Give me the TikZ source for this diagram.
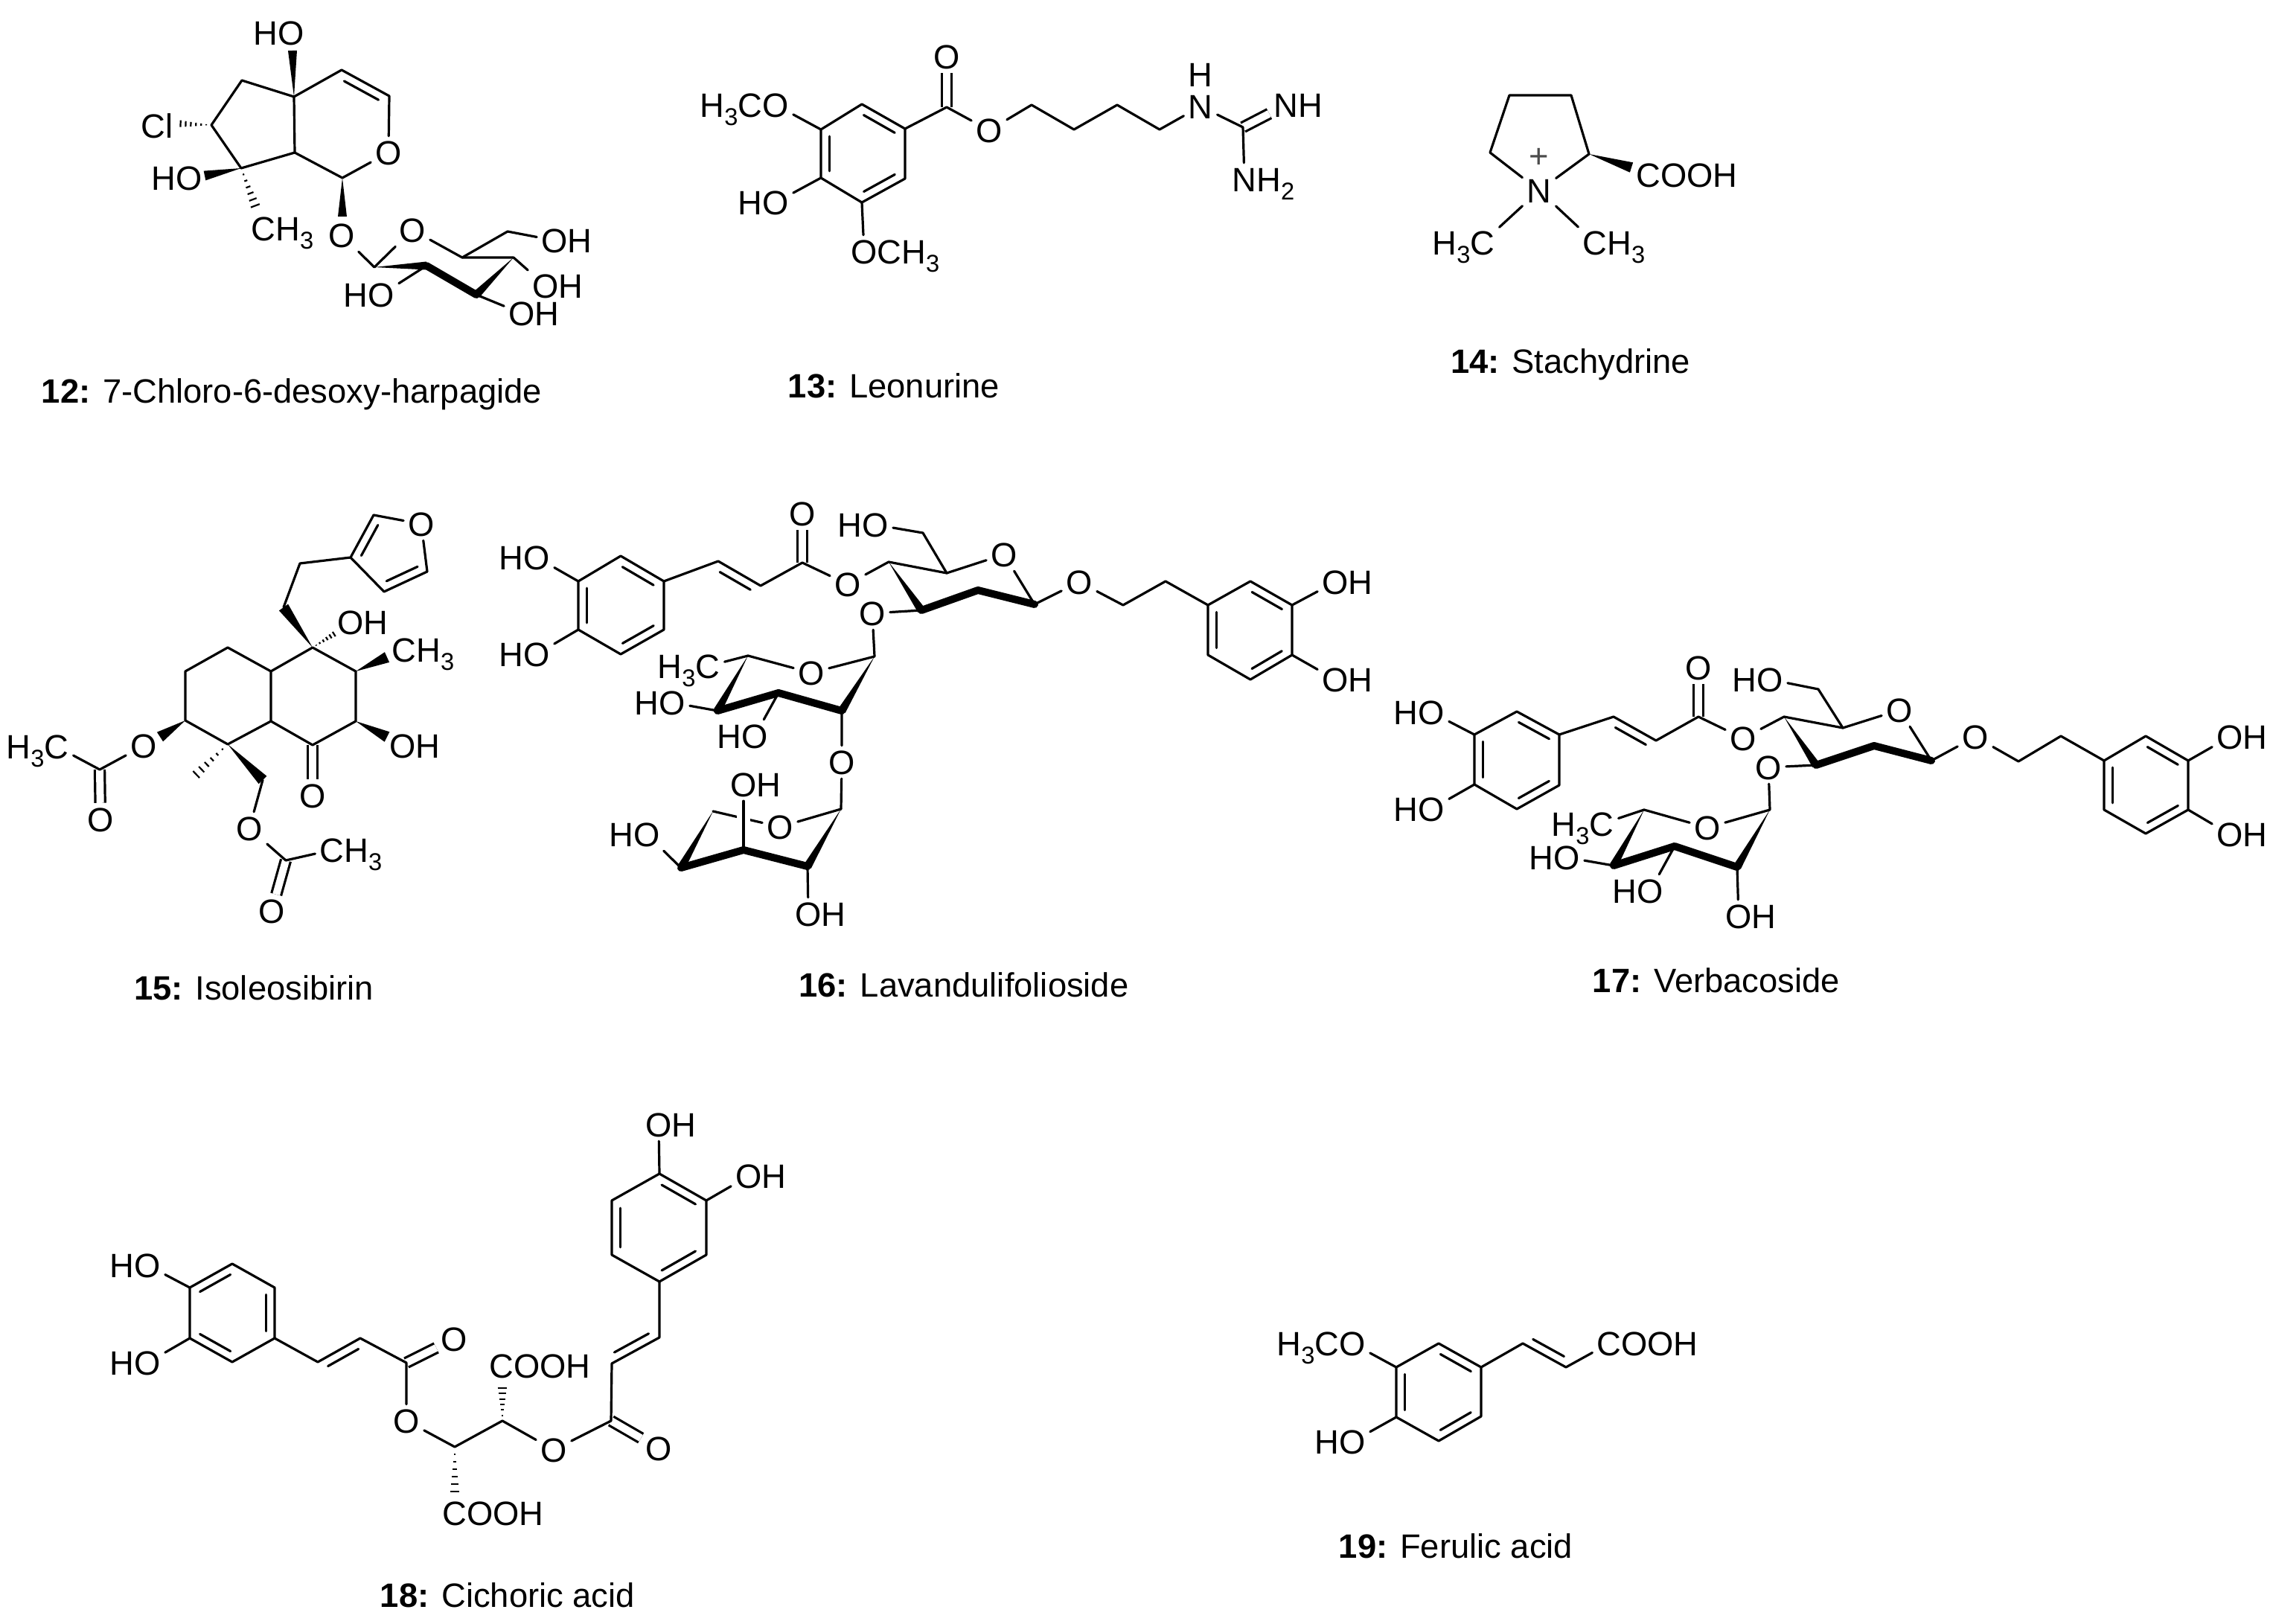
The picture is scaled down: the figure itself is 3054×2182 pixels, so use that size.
\documentclass[tikz,border=0pt]{standalone}
\usepackage{fontspec}
\setmainfont{Liberation Sans}
\usetikzlibrary{calc}
\tikzset{
    bond/.style={line width=0.032cm,line join=round,line cap=round},
    dbond/.style={line width=0.032cm,double,double distance=0.1cm},
    boldbond/.style={line width=0.1cm,line join=round,line cap=round},
    atom/.style={inner sep=0.055cm,font=\fontsize{12.9}{14}\selectfont,text height=0.32cm,text depth=0pt},
    capname/.style={inner sep=0pt,font=\fontsize{12.9}{14}\selectfont,text height=0.32cm,text depth=0.09cm}
}
\newcommand{\lowtext}[1]{\raisebox{-.25em}{\scalebox{.72}{#1}}}
\newcommand{\wedgebond}[3]{\fill (#1) -- ($(#2)!#3!90:(#1)$) -- ($(#2)!#3!-90:(#1)$) -- cycle;}
\newcommand{\hatchbond}[3]{\foreach \t in {.15,.3,.45,.6,.75,.9}{\draw[line width=0.022cm] ($(#1)!\t!(#2)!\t*#3!90:(#2)$) -- ($(#1)!\t!(#2)!\t*#3!-90:(#2)$);}}
\newcommand{\innerbond}[2]{\draw[bond] ($(#1)!.14!(#2)!0.115cm!90:(#2)$) -- ($(#2)!.14!(#1)!0.115cm!-90:(#1)$);}
\begin{document}
\begin{tikzpicture}[x=0.01cm,y=-0.01cm]
\fill[white] (0,0) rectangle (3054,2182);
\useasboundingbox (0,0) rectangle (3054,2182);
\coordinate (ha1) at (460,239);
\coordinate (ha3) at (523,129);
\coordinate (ha4) at (459,94);
\coordinate (ha4a) at (395,130);
\coordinate (ha5) at (325,108);
\coordinate (ha6) at (284,168);
\coordinate (ha7) at (324,226);
\coordinate (ha7a) at (396,205);
\coordinate (hawa) at (393,68);
\coordinate (hawb) at (275,236);
\coordinate (hawc) at (460,291);
\coordinate (haha) at (345,282);
\coordinate (hahb) at (238,166);
\coordinate (hasa) at (503,359);
\coordinate (hasb) at (573,357);
\coordinate (hasc) at (640,396);
\coordinate (hasd) at (690,346);
\coordinate (hase) at (621,346);
\coordinate (hasf) at (682,311);
\node[atom] (haOa) at (391,44) {\llap{H}O};
\node[atom] (haOb) at (522,205) {O};
\node[atom] (haOc) at (254,239) {\llap{H}O};
\node[atom] (haOd) at (459,316) {O};
\node[atom] (haOe) at (554,309) {O};
\node[atom] (haOf) at (745,323) {O\rlap{H}};
\node[atom] (haOg) at (733,384) {O\rlap{H}};
\node[atom] (haOh) at (701,421) {O\rlap{H}};
\node[atom] (haOi) at (512,396) {\llap{H}O};
\node[atom] (haCl) at (211,169) {Cl};
\node[atom] (haMe) at (354,307) {C\rlap{H\lowtext{3}}};
\node[capname] (haName) at (392,530) {\textbf{12:} 7-Chloro-6-desoxy-harpagide};
\draw[bond] (ha4a) -- (ha5) -- (ha6) -- (ha7) -- (ha7a) -- (ha4a) -- (ha4) -- (ha3) -- (haOb);
\draw[bond] (ha7a) -- (ha1) -- (haOb);
\innerbond{ha3}{ha4}
\wedgebond{ha4a}{hawa}{0.06cm}
\wedgebond{ha7}{hawb}{0.065cm}
\wedgebond{ha1}{hawc}{0.06cm}
\hatchbond{ha7}{haha}{0.07cm}
\hatchbond{ha6}{hahb}{0.05cm}
\draw[bond] (haOd) -- (hasa) -- (haOe);
\draw[bond] (haOe) -- (hase) -- (hasd);
\draw[bond] (hase) -- (hasf) -- (haOf);
\draw[bond] (hasd) -- (haOg);
\draw[bond] (hasb) -- (haOi);
\draw[bond] (hasc) -- (haOh);
\wedgebond{hasa}{hasb}{0.055cm}
\draw[boldbond] (hasb) -- (hasc);
\wedgebond{hasd}{hasc}{0.055cm}
\coordinate (let) at (1158,140);
\coordinate (leru) at (1216,173);
\coordinate (lerd) at (1216,240);
\coordinate (leb) at (1158,272);
\coordinate (leld) at (1103,239);
\coordinate (lelu) at (1103,174);
\coordinate (leco) at (1272,144);
\coordinate (lea) at (1386,141);
\coordinate (leb2) at (1443,174);
\coordinate (lec) at (1501,141);
\coordinate (led) at (1558,174);
\coordinate (legu) at (1670,171);
\node[atom] (leOa) at (1272,76) {O};
\node[atom] (leOb) at (1329,175) {O};
\node[atom] (leOc) at (1042,141) {\llap{H\lowtext{3}C}O};
\node[atom] (leOd) at (1042,272) {\llap{H}O};
\node[atom] (leOe) at (1161,338) {O\rlap{CH\lowtext{3}}};
\node[atom] (leNa) at (1613,143) {N};
\node[atom] (leH) at (1613,100) {H};
\node[atom] (leNb) at (1728,141) {N\rlap{H}};
\node[atom] (leNc) at (1672,241) {N\rlap{H\lowtext{2}}};
\node[capname] (leName) at (1201,523) {\textbf{13:} Leonurine};
\draw[dbond] (leco) -- (leOa);
\draw[dbond] (legu) -- (leNb);
\draw[bond] (let) -- (leru) -- (lerd) -- (leb) -- (leld) -- (lelu) -- (let);
\innerbond{leru}{let}
\innerbond{leb}{lerd}
\innerbond{lelu}{leld}
\draw[bond] (lelu) -- (leOc);
\draw[bond] (leld) -- (leOd);
\draw[bond] (leb) -- (leOe);
\draw[bond] (leru) -- (leco) -- (leOb) -- (lea) -- (leb2) -- (lec) -- (led) -- (leNa) -- (legu) -- (leNc);
\coordinate (sta) at (2028,128);
\coordinate (stb) at (2111,128);
\coordinate (stc) at (2135,207);
\coordinate (std) at (2002,205);
\coordinate (stw) at (2192,225);
\node[atom] (stN) at (2068,256) {N};
\node[atom,text=black!70,inner sep=0pt] (stP) at (2068,209) {+};
\node[atom] (stCa) at (2215,235) {C\rlap{OOH}};
\node[atom] (stCb) at (1992,326) {\llap{H\lowtext{3}}C};
\node[atom] (stCc) at (2143,326) {C\rlap{H\lowtext{3}}};
\node[capname] (stName) at (2110,490) {\textbf{14:} Stachydrine};
\draw[bond] (stN) -- (std) -- (sta) -- (stb) -- (stc) -- (stN);
\draw[bond] (stN) -- (stCb);
\draw[bond] (stN) -- (stCc);
\wedgebond{stc}{stw}{0.07cm}
\coordinate (isa) at (471,749);
\coordinate (isb) at (502,692);
\coordinate (isc) at (574,768);
\coordinate (isd) at (516,795);
\coordinate (ise) at (403,757);
\coordinate (isf) at (381,816);
\coordinate (isg) at (420,870);
\coordinate (ish) at (364,902);
\coordinate (isi) at (478,902);
\coordinate (isj) at (478,969);
\coordinate (isk) at (420,1001);
\coordinate (isl) at (364,969);
\coordinate (ism) at (306,1000);
\coordinate (isn) at (249,968);
\coordinate (iso) at (249,902);
\coordinate (isp) at (306,870);
\coordinate (isq) at (134,1034);
\coordinate (isr) at (353,1048);
\coordinate (iss) at (384,1156);
\coordinate (iswa) at (520,883);
\coordinate (iswb) at (520,990);
\coordinate (iswc) at (215,990);
\coordinate (isha) at (452,850);
\coordinate (ishb) at (259,1045);
\node[atom] (isOa) at (566,704) {O};
\node[atom] (isOb) at (471,836) {O\rlap{H}};
\node[atom] (isCa) at (543,873) {C\rlap{H\lowtext{3}}};
\node[atom] (isOc) at (541,1002) {O\rlap{H}};
\node[atom] (isOd) at (420,1069) {O};
\node[atom] (isOe) at (193,1002) {O};
\node[atom] (isCb) at (76,1003) {\llap{H\lowtext{3}}C};
\node[atom] (isOf) at (135,1101) {O};
\node[atom] (isOg) at (335,1113) {O};
\node[atom] (isCc) at (446,1142) {C\rlap{H\lowtext{3}}};
\node[atom] (isOh) at (365,1224) {O};
\node[capname] (isName) at (341,1332) {\textbf{15:} Isoleosibirin};
\draw[dbond] (isk) -- (isOd);
\draw[dbond] (isq) -- (isOf);
\draw[dbond] (iss) -- (isOh);
\draw[bond] (isa) -- (isb) -- (isOa) -- (isc) -- (isd) -- (isa) -- (ise) -- (isf);
\innerbond{isb}{isa}
\innerbond{isd}{isc}
\draw[bond] (isg) -- (ish) -- (isl) -- (isk) -- (isj) -- (isi) -- (isg);
\draw[bond] (ish) -- (isp) -- (iso) -- (isn) -- (ism) -- (isl);
\wedgebond{isg}{isf}{0.075cm}
\hatchbond{isg}{isha}{0.04cm}
\wedgebond{isi}{iswa}{0.075cm}
\wedgebond{isj}{iswb}{0.075cm}
\wedgebond{isn}{iswc}{0.075cm}
\hatchbond{ism}{ishb}{0.07cm}
\wedgebond{ism}{isr}{0.075cm}
\draw[bond] (isr) -- (isOg) -- (iss) -- (isCc);
\draw[bond] (isOe) -- (isq) -- (isCb);
\coordinate (lat) at (834,747);
\coordinate (laru) at (892,781);
\coordinate (lard) at (892,846);
\coordinate (lab) at (834,879);
\coordinate (lald) at (777,846);
\coordinate (lalu) at (777,781);
\coordinate (lava) at (965,754);
\coordinate (lavb) at (1022,787);
\coordinate (laco) at (1078,756);
\coordinate (lasa) at (1194,755);
\coordinate (lasb) at (1240,716);
\coordinate (lasc) at (1272,770);
\coordinate (lasd) at (1238,820);
\coordinate (lase) at (1314,793);
\coordinate (lasf) at (1390,812);
\coordinate (laga) at (1509,813);
\coordinate (lagb) at (1566,781);
\coordinate (lart) at (1680,781);
\coordinate (larru) at (1736,813);
\coordinate (larrd) at (1736,880);
\coordinate (larb) at (1680,913);
\coordinate (larld) at (1623,880);
\coordinate (larlu) at (1623,813);
\coordinate (lara) at (1175,882);
\coordinate (larc) at (1005,881);
\coordinate (lard2) at (964,955);
\coordinate (lare) at (1046,931);
\coordinate (larf) at (1131,955);
\coordinate (lapa) at (1130,1087);
\coordinate (lapb) at (958,1090);
\coordinate (lapc) at (915,1166);
\coordinate (lapd) at (999,1142);
\coordinate (lape) at (1085,1164);
\node[atom] (laOa) at (721,749) {\llap{H}O};
\node[atom] (laOb) at (721,879) {\llap{H}O};
\node[atom] (laOc) at (1078,690) {O};
\node[atom] (laOd) at (1139,785) {O};
\node[atom] (laOe) at (1176,705) {\llap{H}O};
\node[atom] (laOf) at (1172,824) {O};
\node[atom] (laOg) at (1349,745) {O};
\node[atom] (laOh) at (1450,782) {O};
\node[atom] (laOi) at (1794,782) {O\rlap{H}};
\node[atom] (laOj) at (1794,913) {O\rlap{H}};
\node[atom] (laOk) at (1090,904) {O};
\node[atom] (laCa) at (951,895) {\llap{H\lowtext{3}}C};
\node[atom] (laOl) at (903,944) {\llap{H}O};
\node[atom] (laOm) at (1014,989) {\llap{H}O};
\node[atom] (laOn) at (1131,1024) {O};
\node[atom] (laOo) at (1048,1111) {O};
\node[atom] (laOp) at (999,1054) {O\rlap{H}};
\node[atom] (laOq) at (869,1121) {\llap{H}O};
\node[atom] (laOr) at (1086,1228) {O\rlap{H}};
\node[capname] (laName) at (1295,1328) {\textbf{16:} Lavandulifolioside};
\draw[dbond] (laco) -- (laOc);
\draw[bond] (lat) -- (laru) -- (lard) -- (lab) -- (lald) -- (lalu) -- (lat);
\innerbond{laru}{lat}
\innerbond{lab}{lard}
\innerbond{lalu}{lald}
\draw[bond] (lalu) -- (laOa);
\draw[bond] (lald) -- (laOb);
\draw[bond] (laru) -- (lava) -- (lavb) -- (laco) -- (laOd) -- (lasa) -- (lasc) -- (laOg);
\innerbond{lavb}{lava}
\draw[bond] (laOe) -- (lasb) -- (lasc);
\draw[bond] (laOg) -- (lasf) -- (laOh) -- (laga) -- (lagb) -- (larlu);
\draw[bond] (lasd) -- (laOf) -- (lara) -- (laOk) -- (larc) -- (laCa);
\draw[bond] (lart) -- (larru) -- (larrd) -- (larb) -- (larld) -- (larlu) -- (lart);
\innerbond{larru}{lart}
\innerbond{larb}{larrd}
\innerbond{larlu}{larld}
\draw[bond] (larru) -- (laOi);
\draw[bond] (larrd) -- (laOj);
\wedgebond{lasa}{lasd}{0.055cm}
\draw[boldbond] (lasd) -- (lase) -- (lasf);
\draw[bond] (lard2) -- (laOl);
\draw[bond] (lare) -- (laOm);
\draw[bond] (larf) -- (laOn) -- (lapa);
\wedgebond{larc}{lard2}{0.055cm}
\wedgebond{lara}{larf}{0.055cm}
\draw[boldbond] (lard2) -- (lare) -- (larf);
\draw[bond] (lapa) -- (laOo) -- (lapb);
\draw[bond,preaction={draw,white,line width=0.18cm}] (lapd) -- (laOp);
\draw[bond] (lapc) -- (laOq);
\draw[bond] (lape) -- (laOr);
\wedgebond{lapb}{lapc}{0.055cm}
\wedgebond{lapa}{lape}{0.055cm}
\draw[boldbond] (lapc) -- (lapd) -- (lape);
\coordinate (vet) at (2038,956);
\coordinate (veru) at (2095,987);
\coordinate (verd) at (2095,1055);
\coordinate (veb) at (2038,1087);
\coordinate (veld) at (1981,1054);
\coordinate (velu) at (1981,987);
\coordinate (veva) at (2168,963);
\coordinate (vevb) at (2225,995);
\coordinate (veco) at (2282,963);
\coordinate (vesa) at (2397,963);
\coordinate (vesb) at (2443,926);
\coordinate (vesc) at (2476,978);
\coordinate (vesd) at (2440,1028);
\coordinate (vese) at (2518,1002);
\coordinate (vesf) at (2595,1022);
\coordinate (vega) at (2712,1023);
\coordinate (vegb) at (2769,989);
\coordinate (vert) at (2883,989);
\coordinate (verru) at (2940,1022);
\coordinate (verrd) at (2940,1088);
\coordinate (verb) at (2883,1120);
\coordinate (verld) at (2827,1088);
\coordinate (verlu) at (2827,1022);
\coordinate (vera) at (2378,1088);
\coordinate (verc) at (2209,1088);
\coordinate (verd2) at (2168,1163);
\coordinate (vere) at (2250,1137);
\coordinate (verf) at (2334,1165);
\node[atom] (veOa) at (1923,957) {\llap{H}O};
\node[atom] (veOb) at (1923,1087) {\llap{H}O};
\node[atom] (veOc) at (2282,897) {O};
\node[atom] (veOd) at (2342,992) {O};
\node[atom] (veOe) at (2378,913) {\llap{H}O};
\node[atom] (veOf) at (2376,1031) {O};
\node[atom] (veOg) at (2552,954) {O};
\node[atom] (veOh) at (2654,990) {O};
\node[atom] (veOi) at (2996,990) {O\rlap{H}};
\node[atom] (veOj) at (2996,1121) {O\rlap{H}};
\node[atom] (veOk) at (2294,1112) {O};
\node[atom] (veCa) at (2152,1107) {\llap{H\lowtext{3}}C};
\node[atom] (veOl) at (2105,1152) {\llap{H}O};
\node[atom] (veOm) at (2217,1197) {\llap{H}O};
\node[atom] (veOn) at (2336,1231) {O\rlap{H}};
\node[capname] (veName) at (2306,1322) {\textbf{17:} Verbacoside};
\draw[dbond] (veco) -- (veOc);
\draw[bond] (vet) -- (veru) -- (verd) -- (veb) -- (veld) -- (velu) -- (vet);
\innerbond{veru}{vet}
\innerbond{veb}{verd}
\innerbond{velu}{veld}
\draw[bond] (velu) -- (veOa);
\draw[bond] (veld) -- (veOb);
\draw[bond] (veru) -- (veva) -- (vevb) -- (veco) -- (veOd) -- (vesa) -- (vesc) -- (veOg);
\innerbond{vevb}{veva}
\draw[bond] (veOe) -- (vesb) -- (vesc);
\draw[bond] (veOg) -- (vesf) -- (veOh) -- (vega) -- (vegb) -- (verlu);
\draw[bond] (vesd) -- (veOf) -- (vera) -- (veOk) -- (verc) -- (veCa);
\draw[bond] (vert) -- (verru) -- (verrd) -- (verb) -- (verld) -- (verlu) -- (vert);
\innerbond{verru}{vert}
\innerbond{verb}{verrd}
\innerbond{verlu}{verld}
\draw[bond] (verru) -- (veOi);
\draw[bond] (verrd) -- (veOj);
\wedgebond{vesa}{vesd}{0.055cm}
\draw[boldbond] (vesd) -- (vese) -- (vesf);
\draw[bond] (verd2) -- (veOl);
\draw[bond] (vere) -- (veOm);
\draw[bond] (verf) -- (veOn);
\wedgebond{verc}{verd2}{0.055cm}
\wedgebond{vera}{verf}{0.055cm}
\draw[boldbond] (verd2) -- (vere) -- (verf);
\coordinate (cit) at (312,1698);
\coordinate (ciru) at (369,1730);
\coordinate (cird) at (369,1798);
\coordinate (cib) at (312,1830);
\coordinate (cild) at (255,1798);
\coordinate (cilu) at (255,1730);
\coordinate (civa) at (427,1830);
\coordinate (civb) at (484,1798);
\coordinate (cico) at (546,1831);
\coordinate (cita) at (611,1944);
\coordinate (citb) at (675,1909);
\coordinate (ciha) at (675,1860);
\coordinate (cihb) at (611,2011);
\coordinate (cicp) at (821,1909);
\coordinate (civc) at (822,1832);
\coordinate (civd) at (886,1797);
\coordinate (cirb) at (886,1722);
\coordinate (cirrd) at (949,1686);
\coordinate (cirru) at (949,1613);
\coordinate (cirt) at (886,1577);
\coordinate (cirlu) at (822,1613);
\coordinate (cirld) at (822,1686);
\node[atom] (ciOa) at (198,1700) {\llap{H}O};
\node[atom] (ciOb) at (198,1831) {\llap{H}O};
\node[atom] (ciOc) at (610,1799) {O};
\node[atom] (ciOd) at (546,1909) {O};
\node[atom] (ciCa) at (674,1835) {C\rlap{OOH}};
\node[atom] (ciCb) at (611,2033) {C\rlap{OOH}};
\node[atom] (ciOe) at (744,1948) {O};
\node[atom] (ciOf) at (885,1946) {O};
\node[atom] (ciOg) at (885,1511) {O\rlap{H}};
\node[atom] (ciOh) at (1006,1580) {O\rlap{H}};
\node[capname] (ciName) at (682,2148) {\textbf{18:} Cichoric acid};
\draw[dbond] (cico) -- (ciOc);
\draw[dbond] (cicp) -- (ciOf);
\draw[bond] (cit) -- (ciru) -- (cird) -- (cib) -- (cild) -- (cilu) -- (cit);
\innerbond{cit}{cilu}
\innerbond{cird}{ciru}
\innerbond{cild}{cib}
\draw[bond] (cilu) -- (ciOa);
\draw[bond] (cild) -- (ciOb);
\draw[bond] (cird) -- (civa) -- (civb) -- (cico) -- (ciOd) -- (cita) -- (citb) -- (ciOe) -- (cicp) -- (civc) -- (civd) -- (cirb);
\innerbond{civb}{civa}
\innerbond{civc}{civd}
\hatchbond{citb}{ciha}{0.07cm}
\hatchbond{cita}{cihb}{0.07cm}
\draw[bond] (cirt) -- (cirru) -- (cirrd) -- (cirb) -- (cirld) -- (cirlu) -- (cirt);
\innerbond{cirru}{cirt}
\innerbond{cirb}{cirrd}
\innerbond{cirlu}{cirld}
\draw[bond] (cirt) -- (ciOg);
\draw[bond] (cirru) -- (ciOh);
\coordinate (fet) at (1933,1805);
\coordinate (feru) at (1990,1837);
\coordinate (ferd) at (1990,1903);
\coordinate (feb) at (1933,1936);
\coordinate (feld) at (1876,1904);
\coordinate (felu) at (1876,1837);
\coordinate (feva) at (2046,1805);
\coordinate (fevb) at (2104,1837);
\node[atom] (feOa) at (1817,1805) {\llap{H\lowtext{3}C}O};
\node[atom] (feOb) at (1817,1937) {\llap{H}O};
\node[atom] (feCa) at (2162,1805) {C\rlap{OOH}};
\node[capname] (feName) at (1956,2082) {\textbf{19:} Ferulic acid};
\draw[bond] (fet) -- (feru) -- (ferd) -- (feb) -- (feld) -- (felu) -- (fet);
\innerbond{feru}{fet}
\innerbond{feb}{ferd}
\innerbond{felu}{feld}
\draw[bond] (felu) -- (feOa);
\draw[bond] (feld) -- (feOb);
\draw[bond] (feru) -- (feva) -- (fevb) -- (feCa);
\innerbond{feva}{fevb}
\end{tikzpicture}
\end{document}
